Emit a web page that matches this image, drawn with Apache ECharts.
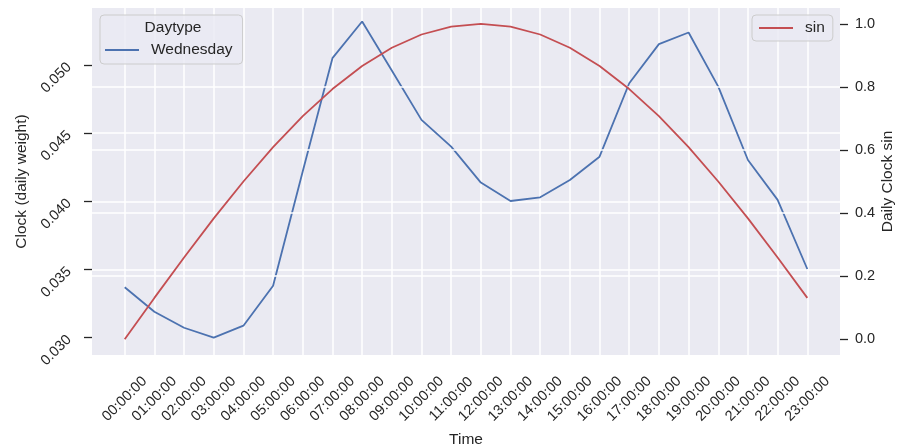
<!DOCTYPE html>
<html><head><meta charset="utf-8">
<script src="https://cdn.jsdelivr.net/npm/echarts@6/dist/echarts.min.js"></script>
<style>html,body{margin:0;padding:0;background:#fff}#c{width:897px;height:446px}</style>
</head><body><div id="c"></div>
<script>
const categories = ['00:00:00','01:00:00','02:00:00','03:00:00','04:00:00','05:00:00','06:00:00','07:00:00',
  '08:00:00','09:00:00','10:00:00','11:00:00','12:00:00','13:00:00','14:00:00','15:00:00',
  '16:00:00','17:00:00','18:00:00','19:00:00','20:00:00','21:00:00','22:00:00','23:00:00'];
const wednesday = [0.03369, 0.03189, 0.03072, 0.03000, 0.03087, 0.03380, 0.04220, 0.05050,
  0.05319, 0.04960, 0.04597, 0.04401, 0.04137, 0.04002, 0.04029, 0.04156,
  0.04327, 0.04866, 0.05153, 0.05238, 0.04841, 0.04303, 0.04010, 0.03503];
const sinValues = [0.000, 0.131, 0.259, 0.383, 0.500, 0.609, 0.707, 0.793,
  0.866, 0.924, 0.966, 0.991, 1.000, 0.991, 0.966, 0.924,
  0.866, 0.793, 0.707, 0.609, 0.500, 0.383, 0.259, 0.131];
const leftTicks = [0.030, 0.035, 0.040, 0.045, 0.050];
const rightTicks = [0.0, 0.2, 0.4, 0.6, 0.8, 1.0];
const leftRange = [0.02872, 0.05418];
const rightRange = [-0.05, 1.05];

const FONT = '"Liberation Sans", Arial, sans-serif';
const TXT = '#262626';
const GRIDLINE = {show: true, showMinLine: false, showMaxLine: false, lineStyle: {color: '#ffffff', width: 1.5}};

const chart = echarts.init(document.getElementById('c'), null, {renderer: 'canvas'});
chart.setOption({
  animation: false,
  backgroundColor: '#ffffff',
  textStyle: {fontFamily: FONT},
  grid: [
    {left: 92, right: 57, top: 8, bottom: 91, show: true, backgroundColor: '#EAEAF2', borderWidth: 0, z: 0,
     containLabel: false, outerBoundsMode: 'none'},
    {left: 124.7, right: 89.7, top: 8, bottom: 91, show: false, containLabel: false, outerBoundsMode: 'none'}
  ],
  graphic: [{
    type: 'text', x: 173, y: 28, z: 1.5,
    style: {text: 'Daytype', fill: TXT, font: '15.5px "Liberation Sans", Arial, sans-serif', align: 'center', verticalAlign: 'middle'}
  }],
  legend: [
    {data: ['Wednesday'], left: 100, top: 15, orient: 'vertical', icon: 'rect', itemWidth: 34, itemHeight: 2,
     padding: [27, 10, 6, 5], backgroundColor: 'rgba(234,234,242,0.8)', borderColor: '#CCCCCC', borderWidth: 1, borderRadius: 4,
     textStyle: {fontSize: 15.5, color: TXT, fontFamily: FONT, padding: [0, 0, 0, 7]}, z: 1},
    {data: ['sin'], left: 752, top: 15, orient: 'vertical', icon: 'rect', itemWidth: 34, itemHeight: 2,
     padding: [5, 8, 5, 7], backgroundColor: 'rgba(234,234,242,0.8)', borderColor: '#CCCCCC', borderWidth: 1, borderRadius: 4,
     textStyle: {fontSize: 15.5, color: TXT, fontFamily: FONT, padding: [0, 0, 0, 7]}, z: 6}
  ],
  xAxis: [
    {gridIndex: 0, type: 'value', show: false, min: 0, max: 1},
    {gridIndex: 1, type: 'category', data: categories, boundaryGap: false, z: 0.5,
     axisLine: {show: false}, axisTick: {show: false},
     axisLabel: {interval: 0, rotate: 45, align: 'center', verticalAlign: 'middle', margin: 44,
                 fontSize: 14.5, color: TXT, fontFamily: FONT},
     splitLine: {show: true, lineStyle: {color: '#ffffff', width: 1.5}},
     name: 'Time', nameLocation: 'middle', nameGap: 77, nameMoveOverlap: false,
     nameTextStyle: {fontSize: 15.5, color: TXT, fontFamily: FONT}}
  ],
  yAxis: [
    {gridIndex: 0, type: 'value', position: 'left', min: leftRange[0], max: leftRange[1], z: 0.5,
     axisLine: {show: false},
     axisTick: {show: true, length: 8, customValues: leftTicks, lineStyle: {color: TXT, width: 1.3}},
     axisLabel: {customValues: leftTicks, rotate: 45, align: 'right', verticalAlign: 'middle', margin: 23,
                 formatter: v => v.toFixed(3), fontSize: 14.5, color: TXT, fontFamily: FONT},
     splitLine: GRIDLINE,
     name: 'Clock (daily weight)', nameLocation: 'middle', nameRotate: 90, nameGap: 62, nameMoveOverlap: false,
     nameTextStyle: {fontSize: 15.5, color: TXT, fontFamily: FONT}},
    {gridIndex: 0, type: 'value', position: 'right', min: rightRange[0], max: rightRange[1], z: 5,
     axisLine: {show: false},
     axisTick: {show: true, length: 8, customValues: rightTicks, lineStyle: {color: TXT, width: 1.3}},
     axisLabel: {customValues: rightTicks, margin: 15, formatter: v => v.toFixed(1),
                 fontSize: 14.5, color: TXT, fontFamily: FONT},
     splitLine: GRIDLINE,
     name: 'Daily Clock sin', nameLocation: 'middle', nameRotate: 90, nameGap: 40, nameMoveOverlap: false,
     nameTextStyle: {fontSize: 15.5, color: TXT, fontFamily: FONT}},
    {gridIndex: 1, type: 'value', min: leftRange[0], max: leftRange[1], show: false},
    {gridIndex: 1, type: 'value', min: rightRange[0], max: rightRange[1], show: false}
  ],
  series: [
    {name: 'Wednesday', type: 'line', xAxisIndex: 1, yAxisIndex: 2, data: wednesday,
     symbol: 'none', showSymbol: false, z: 2,
     lineStyle: {color: '#4C72B0', width: 1.8}, itemStyle: {color: '#4C72B0'}},
    {name: 'sin', type: 'line', xAxisIndex: 1, yAxisIndex: 3, data: sinValues,
     symbol: 'none', showSymbol: false, z: 7,
     lineStyle: {color: '#C44E52', width: 1.8}, itemStyle: {color: '#C44E52'}}
  ]
});
</script></body></html>
